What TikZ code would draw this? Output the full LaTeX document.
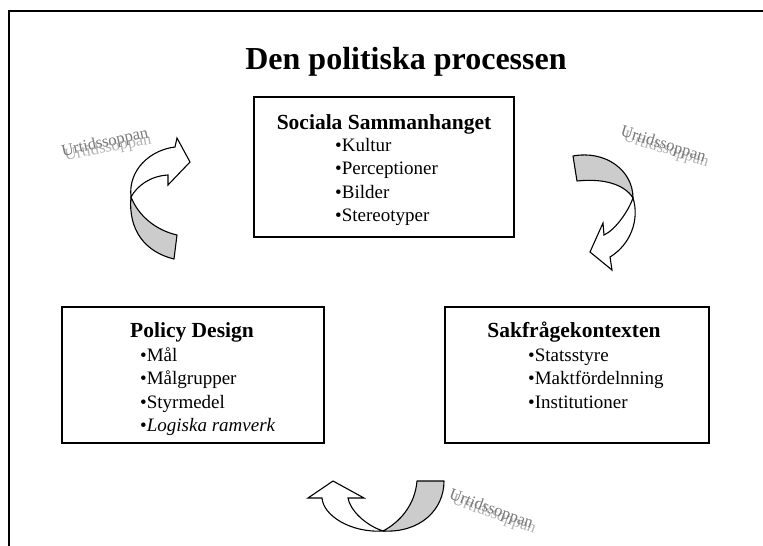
\documentclass[tikz,border=0pt]{standalone}
\usepackage{fontspec}
\setmainfont{Liberation Serif}
\begin{document}
\begin{tikzpicture}[x=1pt,y=-1pt,
  boxnode/.style={draw=black, line width=1.5pt, inner sep=0pt, fill=white},
  boxtitle/.style={anchor=base, font=\bfseries\fontsize{21.5}{25}\selectfont, inner sep=0pt},
  item/.style={anchor=base west, font=\fontsize{19}{22}\selectfont, inner sep=0pt},
  ribbonback/.style={draw=black, line width=1.1pt, fill=black!20, line join=round},
  ribbonfront/.style={draw=black, line width=1.1pt, fill=white, line join=miter},
  wordart/.style={font=\fontsize{16.5}{18}\selectfont, text=black!52, inner sep=0pt},
  wordartecho/.style={font=\fontsize{16.5}{18}\selectfont, text=black!30, inner sep=0pt}]
\useasboundingbox (0,0) rectangle (763,546);
% frame
\draw[line width=2pt] (9,546) -- (9,11) -- (763,11);
% title
\node[anchor=base, inner sep=0pt, font=\bfseries\fontsize{32}{36}\selectfont] (title) at (406,69) {Den politiska processen};

% boxes
\node[boxnode, minimum width=260pt, minimum height=140pt] (social) at (384,167) {};
\node[boxnode, minimum width=262pt, minimum height=136pt] (policy) at (193,375) {};
\node[boxnode, minimum width=264pt, minimum height=136pt] (sak) at (577,375) {};

% top box text
\node[boxtitle] (socialT) at (384,129) {Sociala Sammanhanget};
\node[item] (s1) at (335,151) {\textbullet Kultur};
\node[item] (s2) at (335,174.5) {\textbullet Perceptioner};
\node[item] (s3) at (335,198) {\textbullet Bilder};
\node[item] (s4) at (335,221.5) {\textbullet Stereotyper};

% left box text
\node[boxtitle] (policyT) at (192,337) {Policy Design};
\node[item] (p1) at (140,361) {\textbullet Mål};
\node[item] (p2) at (140,384.5) {\textbullet Målgrupper};
\node[item] (p3) at (140,408) {\textbullet Styrmedel};
\node[item] (p4) at (140,431.5) {\textbullet \textit{Logiska ramverk}};

% right box text
\node[boxtitle] (sakT) at (574,337) {Sakfrågekontexten};
\node[item] (k1) at (528,361) {\textbullet Statsstyre};
\node[item] (k2) at (528,384.5) {\textbullet Maktfördelnning};
\node[item] (k3) at (528,408) {\textbullet Institutioner};

% left curved arrow
\draw[ribbonback] (174,259) .. controls (145,252) and (128,230) .. (131,197)
   .. controls (138,215) and (155,230) .. (177,235) -- cycle;
\draw[ribbonfront] (131,197) .. controls (128,170) and (150,150) .. (175,147)
   -- (177,138) -- (190,162) -- (168,185) -- (168,175)
   .. controls (150,176) and (137,186) .. (131,197) -- cycle;

% right curved arrow
\draw[ribbonback] (573,156) .. controls (605,150) and (633,170) .. (633,198)
   .. controls (625,185) and (605,178) .. (577,181) -- cycle;
\draw[ribbonfront] (633,198) .. controls (640,220) and (630,245) .. (610,257)
   -- (612,270) -- (590,252) -- (603,223) -- (604,235)
   .. controls (615,230) and (628,212) .. (633,198) -- cycle;

% bottom curved arrow
\draw[ribbonback] (444,481) .. controls (444,510) and (420,533) .. (383,531)
   .. controls (400,522) and (415,505) .. (417,481) -- cycle;
\draw[ribbonfront] (383,531) .. controls (350,533) and (323,515) .. (322,498)
   -- (308,498) -- (333,481) -- (364,498) -- (348,498)
   .. controls (350,510) and (365,525) .. (383,531) -- cycle;

% word art labels
\node[wordartecho, rotate=11] (u1e) at (108,148) {Urtidssoppan};
\node[wordart, rotate=12] (u1) at (105,143) {Urtidssoppan};
\node[wordartecho, rotate=-17] (u2e) at (666,150) {Urtidssoppan};
\node[wordart, rotate=-17] (u2) at (663,145) {Urtidssoppan};
\node[wordartecho, rotate=-20] (u3e) at (494,515) {Urtidssoppan};
\node[wordart, rotate=-20] (u3) at (491,510) {Urtidssoppan};
\end{tikzpicture}
\end{document}
